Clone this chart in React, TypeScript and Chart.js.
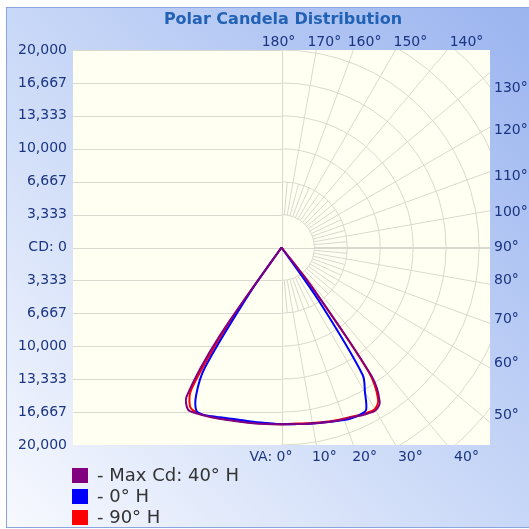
import React, { useEffect, useRef } from 'react';
import { Chart, registerables } from 'chart.js';

Chart.register(...registerables);

// Vertical angles (degrees from nadir)
const verticalAngles = [0, 5, 10, 15, 20, 22.5, 25, 27.5, 30, 32.5, 35, 37.5, 40, 45, 50, 60, 70, 80, 90];

// Candela values, right half (H plane) and left half (H + 180°)
const maxCdRight = [17900, 17950, 18100, 18300, 18500, 18600, 18800, 18950, 19050, 18500, 15900, 5500, 0, 0, 0, 0, 0, 0, 0];
const maxCdLeft = [17900, 17950, 18050, 18200, 18450, 18600, 18750, 18900, 18950, 17900, 11000, 0, 0, 0, 0, 0, 0, 0, 0];
const h0Right = [17900, 17950, 18100, 18300, 18600, 18700, 18700, 18550, 16900, 15300, 6500, 0, 0, 0, 0, 0, 0, 0, 0];
const h0Left = [17900, 17850, 17900, 18000, 18300, 18500, 18700, 18650, 17300, 14500, 5500, 0, 0, 0, 0, 0, 0, 0, 0];
const h90Right = [17900, 17900, 18050, 18250, 18450, 18550, 18700, 18850, 18900, 18200, 15400, 5000, 0, 0, 0, 0, 0, 0, 0];
const h90Left = [17900, 17900, 18000, 18150, 18400, 18550, 18700, 18800, 18550, 16900, 8500, 0, 0, 0, 0, 0, 0, 0, 0];

const seriesLabels = ['- Max Cd: 40° H', '- 0° H', '- 90° H'];
const seriesColors = ['#800080', '#0000ff', '#ff0000'];

const cdTickValues = [20000, 16666.67, 13333.33, 10000, 6666.67, 3333.33, 0, -3333.33, -6666.67, -10000, -13333.33, -16666.67, -20000];
const cdTickLabels = ['20,000', '16,667', '13,333', '10,000', '6,667', '3,333', 'CD: 0', '3,333', '6,667', '10,000', '13,333', '16,667', '20,000'];
const ringStep = 3333.33;
const ringCount = 8;

const bottomAngleLabels = [10, 20, 30, 40];
const topAngleLabels = [170, 160, 150, 140];
const rightAngleLabels = [130, 120, 110, 100, 90, 80, 70, 60, 50];
const rightLabelNudge = [16, 3, 5, 2, 0, -4, -4, -5, -7];

const xExtent = 21114;

const FONT = '"DejaVu Sans", Verdana, sans-serif';
const LABEL_COLOR = '#1b3582';

// Left half from the last lit angle down to nadir, then right half up to the last lit angle.
// Trailing zero-candela angles all sit at the pole, so only the first one is kept.
function buildCurve(left: number[], right: number[]) {
  const lastLit = (arr: number[]) => {
    let k = arr.length - 1;
    while (k > 0 && arr[k - 1] === 0) k--;
    return k;
  };
  const pts: { x: number; y: number }[] = [];
  for (let i = lastLit(left); i >= 0; i--) {
    const a = (verticalAngles[i] * Math.PI) / 180;
    pts.push({ x: -left[i] * Math.sin(a), y: -left[i] * Math.cos(a) });
  }
  const rEnd = lastLit(right);
  for (let i = 1; i <= rEnd; i++) {
    const a = (verticalAngles[i] * Math.PI) / 180;
    pts.push({ x: right[i] * Math.sin(a), y: -right[i] * Math.cos(a) });
  }
  return pts;
}

const polarPlugin = {
  id: 'polarPlugin',
  beforeDraw(chart: any) {
    const { ctx, width, height } = chart;
    ctx.save();
    ctx.fillStyle = '#ffffff';
    ctx.fillRect(0, 0, width, height);
    const g = ctx.createLinearGradient(6, 527, 529, 7);
    g.addColorStop(0, '#f7f9fe');
    g.addColorStop(0.45, '#cddbf8');
    g.addColorStop(1, '#9ab4ef');
    ctx.fillStyle = g;
    ctx.fillRect(6, 7, 530, 521);
    ctx.strokeStyle = '#8aa5de';
    ctx.lineWidth = 1;
    ctx.strokeRect(6.5, 7.5, 540, 520);
    ctx.fillStyle = '#2262b4';
    ctx.font = `bold 16px ${FONT}`;
    ctx.textAlign = 'center';
    ctx.textBaseline = 'middle';
    ctx.fillText('Polar Candela Distribution', 283, 20);
    ctx.restore();
  },
  beforeDatasetsDraw(chart: any) {
    const { ctx, chartArea: ca, scales } = chart;
    const xs = scales.x;
    const ys = scales.y;
    const x0 = xs.getPixelForValue(0);
    const y0 = ys.getPixelForValue(0);
    const pxPerCd = (ys.getPixelForValue(0) - ys.getPixelForValue(20000)) / 20000;
    ctx.save();
    ctx.fillStyle = '#fffff2';
    ctx.fillRect(ca.left, ca.top, ca.right - ca.left, ca.bottom - ca.top);
    ctx.beginPath();
    ctx.rect(ca.left, ca.top, ca.right - ca.left, ca.bottom - ca.top);
    ctx.clip();
    ctx.strokeStyle = '#d9d9cf';
    ctx.lineWidth = 1;
    ctx.beginPath();
    cdTickValues.forEach((v) => {
      const py = Math.round(ys.getPixelForValue(v)) + 0.5;
      ctx.moveTo(ca.left, py);
      ctx.lineTo(v === 0 ? ca.right : x0, py);
    });
    const vx = Math.round(x0) + 0.5;
    ctx.moveTo(vx, ca.top);
    ctx.lineTo(vx, ca.bottom);
    ctx.stroke();
    for (let k = 1; k <= ringCount; k++) {
      const r = k * ringStep * pxPerCd;
      ctx.beginPath();
      ctx.arc(x0, y0, r, -Math.PI / 2, Math.PI / 2);
      ctx.stroke();
    }
    const r1 = ringStep * pxPerCd;
    const r2 = 2 * ringStep * pxPerCd;
    const far = 4000;
    ctx.beginPath();
    for (let a = 5; a < 180; a += 5) {
      const t = (a * Math.PI) / 180;
      const dx = Math.sin(t);
      const dy = Math.cos(t);
      const rEnd = a % 10 === 0 ? far : r2;
      ctx.moveTo(x0 + dx * r1, y0 + dy * r1);
      ctx.lineTo(x0 + dx * rEnd, y0 + dy * rEnd);
    }
    ctx.stroke();
    ctx.restore();
  },
  afterDraw(chart: any) {
    const { ctx, chartArea: ca, scales } = chart;
    const x0 = scales.x.getPixelForValue(0);
    const y0 = scales.y.getPixelForValue(0);
    ctx.save();
    ctx.fillStyle = LABEL_COLOR;
    ctx.font = `14px ${FONT}`;
    ctx.textBaseline = 'middle';
    ctx.textAlign = 'right';
    ctx.fillText('VA: 0°', x0 + 11, ca.bottom + 12);
    ctx.textAlign = 'center';
    ctx.fillText('180°', x0 - 3, ca.top - 8);
    bottomAngleLabels.forEach((a) => {
      const t = (a * Math.PI) / 180;
      const px = x0 + (ca.bottom - y0 + 17) * Math.tan(t);
      ctx.fillText(`${a}°`, px + 5, ca.bottom + 12);
    });
    topAngleLabels.forEach((a) => {
      const t = ((180 - a) * Math.PI) / 180;
      const px = x0 + (y0 - ca.top + 17) * Math.tan(t);
      ctx.fillText(`${a}°`, px + 5, ca.top - 8);
    });
    ctx.textAlign = 'left';
    rightAngleLabels.forEach((a, i) => {
      const t = (a * Math.PI) / 180;
      const py = y0 + ((ca.right - x0) * Math.cos(t)) / Math.sin(t);
      ctx.fillText(`${a}°`, ca.right + 4, py + rightLabelNudge[i]);
    });
    const ds = chart.data.datasets;
    ctx.font = `18px ${FONT}`;
    ds.forEach((d: any, i: number) => {
      const top = 468 + i * 21;
      ctx.fillStyle = d.borderColor;
      ctx.fillRect(72, top, 16, 15);
      ctx.fillStyle = '#333333';
      ctx.fillText(d.label, 97, top + 8);
    });
    ctx.restore();
  },
};

export default function App() {
  const ref = useRef<HTMLCanvasElement>(null);
  useEffect(() => {
    const curves = [
      buildCurve(maxCdLeft, maxCdRight),
      buildCurve(h0Left, h0Right),
      buildCurve(h90Left, h90Right),
    ];
    const chart = new Chart(ref.current as HTMLCanvasElement, {
      type: 'scatter',
      data: {
        datasets: curves.map((pts, i) => ({
          label: seriesLabels[i],
          data: pts,
          showLine: true,
          borderColor: seriesColors[i],
          backgroundColor: seriesColors[i],
          borderWidth: 2,
          pointRadius: 0,
          tension: 0.3,
          fill: false,
        })),
      },
      options: {
        responsive: false,
        animation: false,
        devicePixelRatio: 1,
        layout: { padding: { left: 0, top: 50, right: 39, bottom: 84 } },
        plugins: { legend: { display: false }, tooltip: { enabled: false }, title: { display: false } },
        scales: {
          x: { type: 'linear', min: -xExtent, max: xExtent, display: false },
          y: {
            type: 'linear',
            min: -20000,
            max: 20000,
            position: 'left',
            grid: { display: false, drawTicks: false },
            border: { display: false },
            afterBuildTicks: (scale: any) => {
              scale.ticks = cdTickValues.map((v) => ({ value: v }));
            },
            afterFit: (scale: any) => {
              scale.width = 73;
            },
            ticks: {
              padding: 6,
              color: LABEL_COLOR,
              font: { family: FONT, size: 14 },
              callback: (value: any) => {
                const idx = cdTickValues.findIndex((v) => Math.abs(v - Number(value)) < 1);
                return idx >= 0 ? cdTickLabels[idx] : '';
              },
            },
          },
        },
      },
      plugins: [polarPlugin],
    });
    return () => chart.destroy();
  }, []);
  return (
    <div style={{ position: 'fixed', left: 0, top: 0, width: 529, height: 529 }}>
      <canvas ref={ref} width={529} height={529} style={{ display: 'block', width: 529, height: 529 }} />
    </div>
  );
}
